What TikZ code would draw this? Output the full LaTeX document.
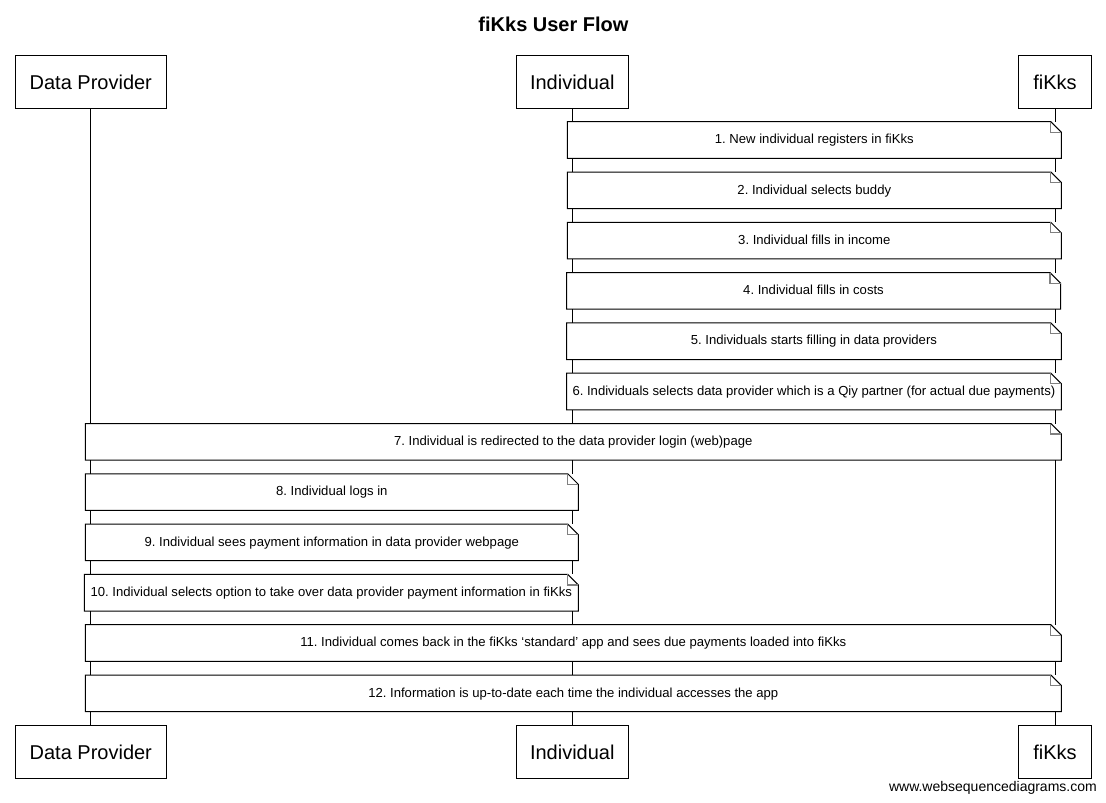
\documentclass[tikz,border=0pt]{standalone}
\usepackage{fontspec}
\setmainfont{Liberation Sans}
\frenchspacing
\tikzset{
  actor/.style={draw=black, line width=1pt, fill=white, inner sep=0pt, outer sep=0pt, minimum height=52.7pt, text height=18pt, text depth=3pt, font=\fontsize{20}{24}\selectfont},
  notebox/.style={fill=white, inner sep=0pt, outer sep=0pt, minimum height=36.6pt, text height=10pt, text depth=2.5pt, anchor=north west, font=\fontsize{13.1}{15}\selectfont},
  outline/.style={draw=black, line width=1pt, line join=miter},
  fold/.style={draw=black!50, line width=1.2pt},
  lifeline/.style={draw=black, line width=1pt}
}
\newcommand\noteoutline[1]{%
  \draw[outline] (#1.north west) -- ([xshift=-10.5pt]#1.north east) -- ([yshift=-10.5pt]#1.north east) -- (#1.south east) -- (#1.south west) -- cycle;
  \draw[fold] ([xshift=-10.5pt]#1.north east) -- ([xshift=-10.5pt,yshift=-10.5pt]#1.north east) -- ([yshift=-10.5pt]#1.north east);
}
\begin{document}
\begin{tikzpicture}[x=1pt, y=-1pt]
\useasboundingbox[fill=white] (0,0) rectangle (1106,803);
\node[anchor=base, inner sep=0pt, font=\fontsize{20}{24}\selectfont\bfseries] (title) at (553.5,31) {fiKks User Flow};
% actors top
\node[actor, minimum width=151pt] (dp) at (90.8,81.8) {Data Provider};
\node[actor, minimum width=112pt] (ind) at (572.3,81.8) {Individual};
\node[actor, minimum width=73pt] (fk) at (1055,81.8) {fiKks};
% actors bottom
\node[actor, minimum width=151pt] (dpb) at (90.8,752) {Data Provider};
\node[actor, minimum width=112pt] (indb) at (572.3,752) {Individual};
\node[actor, minimum width=73pt] (fkb) at (1055,752) {fiKks};
% lifelines
\draw[lifeline] (dp.south) -- (dpb.north);
\draw[lifeline] (ind.south) -- (indb.north);
\draw[lifeline] (fk.south) -- (fkb.north);
% notes
\node[notebox, minimum width=494pt] (n1) at (567.3,121.7) {1. New individual registers in fiKks};
\noteoutline{n1}
\node[notebox, minimum width=494pt] (n2) at (567.3,172.0) {2. Individual selects buddy};
\noteoutline{n2}
\node[notebox, minimum width=494pt] (n3) at (567.3,222.3) {3. Individual fills in income};
\noteoutline{n3}
\node[notebox, minimum width=494pt] (n4) at (566.5,272.6) {4. Individual fills in costs};
\noteoutline{n4}
\node[notebox, minimum width=494.8pt] (n5) at (566.5,322.9) {5. Individuals starts filling in data providers};
\noteoutline{n5}
\node[notebox, minimum width=494.8pt] (n6) at (566.5,373.2) {6. Individuals selects data provider which is a Qiy partner (for actual due payments)};
\noteoutline{n6}
\node[notebox, minimum width=976pt] (n7) at (85.3,423.5) {7. Individual is redirected to the data provider login (web)page};
\noteoutline{n7}
\node[notebox, minimum width=493pt] (n8) at (85.3,473.8) {8. Individual logs in};
\noteoutline{n8}
\node[notebox, minimum width=493pt] (n9) at (85.3,524.1) {9. Individual sees payment information in data provider webpage};
\noteoutline{n9}
\node[notebox, minimum width=494pt] (n10) at (84.3,574.4) {10. Individual selects option to take over data provider payment information in fiKks};
\noteoutline{n10}
\node[notebox, minimum width=976pt] (n11) at (85.3,624.7) {11. Individual comes back in the fiKks `standard' app and sees due payments loaded into fiKks};
\noteoutline{n11}
\node[notebox, minimum width=976pt] (n12) at (85.3,675.0) {12. Information is up-to-date each time the individual accesses the app};
\noteoutline{n12}
% footer
\node[anchor=east, inner sep=0pt, font=\fontsize{14}{16}\selectfont] (footer) at (1097,787.5) {www.websequencediagrams.com};
\end{tikzpicture}
\end{document}
